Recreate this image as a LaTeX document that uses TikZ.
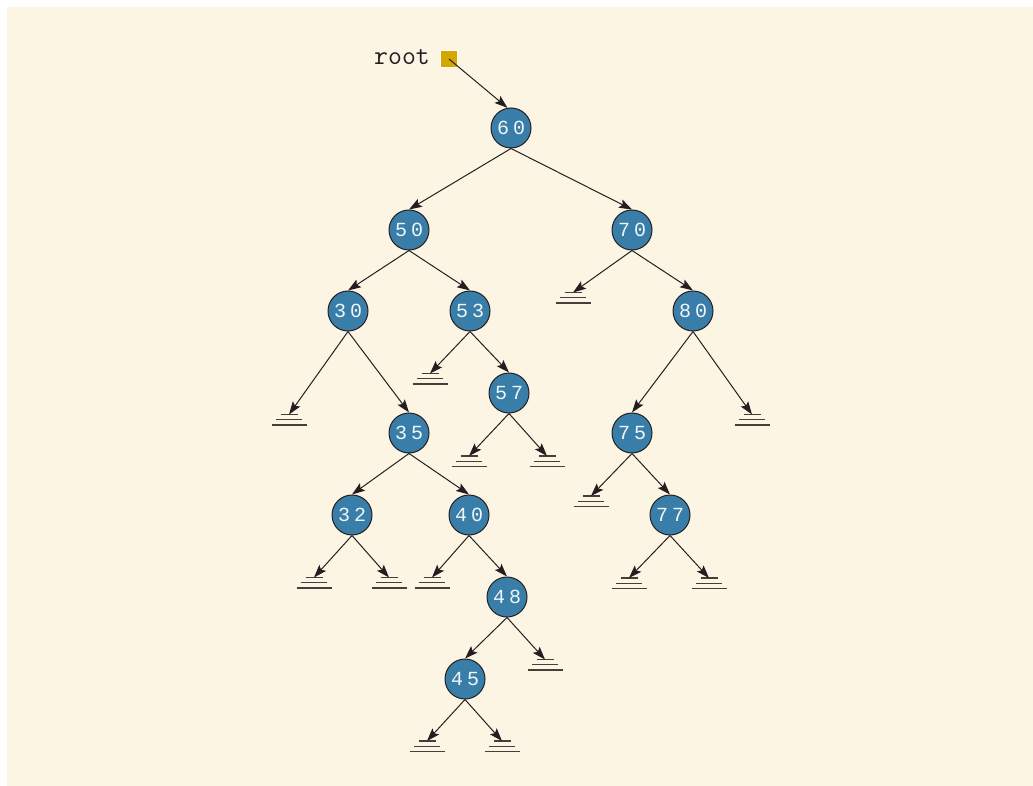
\documentclass[tikz,border=0pt]{standalone}
\usepackage{fontspec}
\newfontfamily\digitfont{Liberation Mono}
\usetikzlibrary{arrows.meta}
\definecolor{bg}{RGB}{253,245,228}
\definecolor{nodeblue}{RGB}{56,126,168}
\definecolor{ink}{RGB}{35,31,32}
\definecolor{gold}{RGB}{212,166,0}
\definecolor{gnd}{RGB}{70,62,58}
\newcommand\dd[2]{#1\kern4pt#2}
\tikzset{
  tn/.style={circle, draw=ink, line width=1pt, fill=nodeblue, minimum size=40pt,
    inner sep=0pt, text=white!92!nodeblue, font=\digitfont\fontsize{20}{20}\selectfont},
  edge/.style={draw=ink, line width=1pt, -{Stealth[length=13pt,width=9pt,inset=2.5pt]}},
  gline/.style={draw=gnd, line width=1.3pt},
  ground/.pic={\draw[gline] (-8.5,0) -- (8.5,0) (-13,5.2) -- (13,5.2) (-17.5,10.4) -- (17.5,10.4);}
}
\begin{document}
\begin{tikzpicture}[x=1pt,y=-1pt]
\useasboundingbox (0,0) rectangle (1033,786);
\fill[white] (0,0) rectangle (1033,786);
\fill[bg] (7,7) rectangle (1033,786);
% root
\node[font=\ttfamily\fontsize{27}{27}\selectfont, text=ink, anchor=base, inner sep=0pt] (rootlbl) at (402,64.5) {root};
\node[draw=white, fill=gold, minimum size=17pt, inner sep=0pt, line width=0.8pt] (rt) at (449,59) {};
% tree nodes
\node[tn] (n60) at (511,128) {\dd60};
\node[tn] (n50) at (409,230) {\dd50};
\node[tn] (n70) at (632,230) {\dd70};
\node[tn] (n30) at (348,311) {\dd30};
\node[tn] (n53) at (470,311) {\dd53};
\node[tn] (n80) at (693,311) {\dd80};
\node[tn] (n57) at (509,393) {\dd57};
\node[tn] (n35) at (409,433) {\dd35};
\node[tn] (n75) at (632,433) {\dd75};
\node[tn] (n32) at (352,515) {\dd32};
\node[tn] (n40) at (469,515) {\dd40};
\node[tn] (n77) at (670,515) {\dd77};
\node[tn] (n48) at (507,597) {\dd48};
\node[tn] (n45) at (465,679) {\dd45};
% grounds
\coordinate (g70l) at (573,292.5);
\coordinate (g53l) at (430,373.5);
\coordinate (g30l) at (289,414.5);
\coordinate (g80r) at (752,414.5);
\coordinate (g57l) at (469,456);
\coordinate (g57r) at (547,456);
\coordinate (g75l) at (591,496);
\coordinate (g32l) at (314,577.5);
\coordinate (g32r) at (389,577.5);
\coordinate (g40l) at (432,577.5);
\coordinate (g77l) at (629,578);
\coordinate (g77r) at (709,578);
\coordinate (g48r) at (545,659.5);
\coordinate (g45l) at (427,741);
\coordinate (g45r) at (502,741);
\foreach \g in {g70l,g53l,g30l,g80r,g57l,g57r,g75l,g32l,g32r,g40l,g77l,g77r,g48r,g45l,g45r}
  \pic at (\g) {ground};
% edges
\draw[edge] (rt.center) -- (n60.100);
\draw[edge] (n60.south) -- (n50.north);
\draw[edge] (n60.south) -- (n70.north);
\draw[edge] (n50.south) -- (n30.north);
\draw[edge] (n50.south) -- (n53.north);
\draw[edge] (n70.south) -- (g70l);
\draw[edge] (n70.south) -- (n80.north);
\draw[edge] (n30.south) -- (g30l);
\draw[edge] (n30.south) -- (n35.north);
\draw[edge] (n53.south) -- (g53l);
\draw[edge] (n53.south) -- (n57.north);
\draw[edge] (n80.south) -- (n75.north);
\draw[edge] (n80.south) -- (g80r);
\draw[edge] (n57.south) -- (g57l);
\draw[edge] (n57.south) -- (g57r);
\draw[edge] (n35.south) -- (n32.north);
\draw[edge] (n35.south) -- (n40.north);
\draw[edge] (n75.south) -- (g75l);
\draw[edge] (n75.south) -- (n77.north);
\draw[edge] (n32.south) -- (g32l);
\draw[edge] (n32.south) -- (g32r);
\draw[edge] (n40.south) -- (g40l);
\draw[edge] (n40.south) -- (n48.north);
\draw[edge] (n77.south) -- (g77l);
\draw[edge] (n77.south) -- (g77r);
\draw[edge] (n48.south) -- (n45.north);
\draw[edge] (n48.south) -- (g48r);
\draw[edge] (n45.south) -- (g45l);
\draw[edge] (n45.south) -- (g45r);
\end{tikzpicture}
\end{document}
